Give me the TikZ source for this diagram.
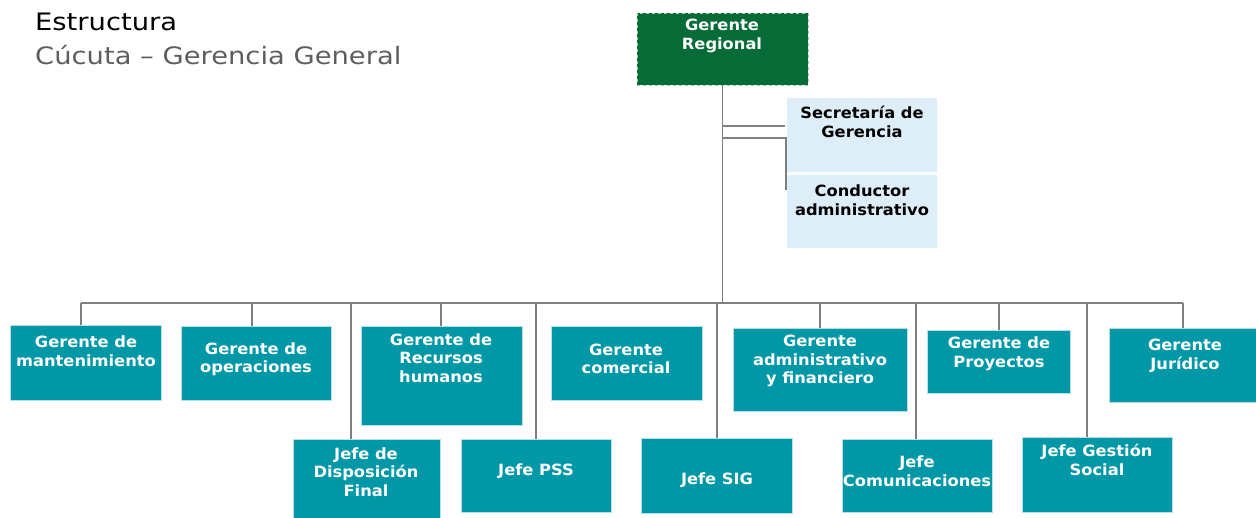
\documentclass[tikz,border=0pt]{standalone}
\usepackage{fontspec}
\setmainfont{DejaVu Sans}
\newfontfamily\titlefont[FakeStretch=1.14]{DejaVu Sans}
\newfontfamily\boxfont[FakeStretch=1.05]{DejaVu Sans}
\definecolor{teal1}{HTML}{0097A7}
\definecolor{tealedge}{HTML}{B9DFE4}
\definecolor{green1}{HTML}{066B36}
\definecolor{greenedge}{HTML}{A9C9AE}
\definecolor{lblue}{HTML}{DEEEF9}
\definecolor{conncol}{HTML}{7F7F7F}
\definecolor{subgray}{HTML}{5E5E5E}
\tikzset{
  teabox/.style={draw=tealedge, line width=0.8pt, fill=teal1, inner sep=0pt},
  grnbox/.style={draw=greenedge, dashed, line width=0.8pt, fill=green1, inner sep=0pt},
  bluebox/.style={draw=white, line width=1.5pt, fill=lblue, inner sep=0pt},
  wtxt/.style={text=white, font=\boxfont\bfseries\fontsize{15.5}{18.5}\selectfont, align=center, inner sep=0pt},
  btxt/.style={text=black, font=\boxfont\bfseries\fontsize{15.5}{18.5}\selectfont, align=center, inner sep=0pt},
  ttl/.style={anchor=base west, inner sep=0pt, font=\titlefont\fontsize{24}{28}\selectfont},
  conn/.style={draw=conncol, line width=1.4pt},
}
\newcommand\obox[6]{% style, name, x1, y1, x2, y2
  \node[#1, minimum width={(#5-#3)*1pt}, minimum height={(#6-#4)*1pt}] (#2) at ({(#3+#5)/2},{(#4+#6)/2}) {};}
\begin{document}
\begin{tikzpicture}[x=1pt,y=-1pt]
\useasboundingbox (0,0) rectangle (1256,518);
% title
\node[ttl] (t1) at (35,31) {Estructura};
\node[ttl, text=subgray] (t2) at (35,65) {Cúcuta – Gerencia General};
% boxes
\obox{grnbox}{gr}{637}{13}{808}{85}
\obox{bluebox}{sec}{786}{97}{938}{173}
\obox{bluebox}{con}{786}{174}{938}{249}
\obox{teabox}{man}{10}{325}{161}{400}
\obox{teabox}{ope}{181}{326}{331}{400}
\obox{teabox}{rrh}{361}{326}{522}{425}
\obox{teabox}{com}{551}{326}{702}{400}
\obox{teabox}{adm}{733}{328}{907}{411}
\obox{teabox}{pro}{927}{330}{1070}{393}
\obox{teabox}{jur}{1109}{328}{1256}{402}
\obox{teabox}{dis}{293}{439}{440}{518}
\obox{teabox}{pss}{461}{439}{611}{512}
\obox{teabox}{sig}{641}{438}{792}{513}
\obox{teabox}{cmu}{842}{439}{992}{512}
\obox{teabox}{ges}{1022}{437}{1172}{512}
% texts
\node[wtxt] (grt) at (722,36) {Gerente\\Regional};
\node[btxt] (sect) at (862,122) {Secretaría de\\Gerencia};
\node[btxt] (cont) at (862,200) {Conductor\\administrativo};
\node[wtxt] (mant) at (86,351) {Gerente de\\mantenimiento};
\node[wtxt] (opet) at (256,359) {Gerente de\\operaciones};
\node[wtxt] (rrht) at (441,358) {Gerente de\\Recursos\\humanos};
\node[wtxt] (comt) at (626,359) {Gerente\\comercial};
\node[wtxt] (admt) at (820,361) {Gerente\\administrativo\\y financiero};
\node[wtxt] (prot) at (999,354) {Gerente de\\Proyectos};
\node[wtxt] (jurt) at (1185,356) {Gerente\\Jurídico};
\node[wtxt] (dist) at (366,472) {Jefe de\\Disposición\\Final};
\node[wtxt] (psst) at (536,471) {Jefe PSS};
\node[wtxt] (sigt) at (717,480) {Jefe SIG};
\node[wtxt] (cmut) at (917,471) {Jefe\\Comunicaciones};
\node[wtxt] (gest) at (1097,460) {Jefe Gestión\\Social};
% connectors
\coordinate (busL) at (81,303);
\coordinate (busR) at (1183,303);
\coordinate (s1) at (722,126);
\coordinate (s2) at (722,138);
\coordinate (c2) at (786,190);
\draw[conn] (gr.south) -- (gr.south |- busL);
\draw[conn] (s1) -- (s1 -| sec.west);
\draw[conn] (s2) -| (c2);
\draw[conn] (busL) -- (busR);
\coordinate (tman) at (81,303);
\coordinate (tope) at (252,303);
\coordinate (trrh) at (441,303);
\coordinate (tadm) at (820,303);
\coordinate (tpro) at (999,303);
\coordinate (tjur) at (1183,303);
\coordinate (tdis) at (351,303);
\coordinate (tpss) at (536,303);
\coordinate (tsig) at (717,303);
\coordinate (tcmu) at (916,303);
\coordinate (tges) at (1087,303);
\draw[conn] (tman) -- (tman |- man.north);
\draw[conn] (tope) -- (tope |- ope.north);
\draw[conn] (trrh) -- (trrh |- rrh.north);
\draw[conn] (tadm) -- (tadm |- adm.north);
\draw[conn] (tpro) -- (tpro |- pro.north);
\draw[conn] (tjur) -- (tjur |- jur.north);
\draw[conn] (tdis) -- (tdis |- dis.north);
\draw[conn] (tpss) -- (tpss |- pss.north);
\draw[conn] (tsig) -- (tsig |- sig.north);
\draw[conn] (tcmu) -- (tcmu |- cmu.north);
\draw[conn] (tges) -- (tges |- ges.north);
\end{tikzpicture}
\end{document}
